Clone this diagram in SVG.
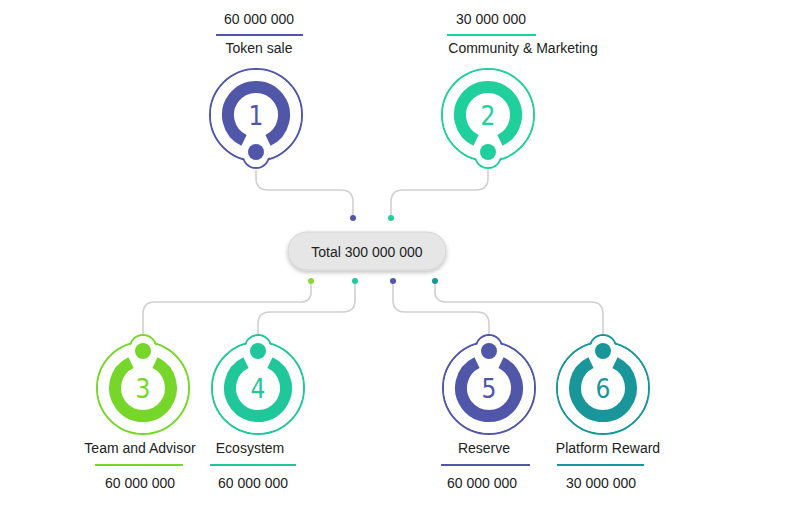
<svg xmlns="http://www.w3.org/2000/svg" width="800" height="521" viewBox="0 0 800 521">
<defs>
<filter id="sh" x="-20%" y="-40%" width="140%" height="180%"><feDropShadow dx="0" dy="2" stdDeviation="2" flood-color="#000" flood-opacity="0.25"/></filter>
<g id="nodeT">
<circle r="46" fill="#fff" stroke="currentColor" stroke-width="2"/>
<circle cy="40" r="13" fill="#fff" stroke="currentColor" stroke-width="2"/>
<circle r="45" fill="#fff"/>
<circle cy="40" r="12" fill="#fff"/>
<path d="M-12,25.3 A28,28 0 1 1 12,25.3" fill="none" stroke="currentColor" stroke-width="12"/>
<circle cy="37" r="8" fill="currentColor"/>
</g>
<g id="nodeB">
<circle r="46" fill="#fff" stroke="currentColor" stroke-width="2"/>
<circle cy="-40" r="13" fill="#fff" stroke="currentColor" stroke-width="2"/>
<circle r="45" fill="#fff"/>
<circle cy="-40" r="12" fill="#fff"/>
<path d="M-12,-25.3 A28,28 0 1 0 12,-25.3" fill="none" stroke="currentColor" stroke-width="12"/>
<circle cy="-37" r="8" fill="currentColor"/>
</g>
</defs>
<style>
text{font-family:"Liberation Sans",Arial,sans-serif;font-size:14px;fill:#222;text-anchor:middle}
.num{font-size:26px;font-family:"DejaVu Sans Condensed","Liberation Sans",sans-serif}
.con{fill:none;stroke:#d0d0d0;stroke-width:1.6}
</style>
<rect width="800" height="521" fill="#fff"/>
<g id="connectors">
<path class="con" d="M256,170 V178 Q256,190 268,190 H341 Q353,190 353,202 V216"/>
<path class="con" d="M488,170 V178 Q488,190 476,190 H403 Q391,190 391,202 V216"/>
<path class="con" d="M311,283 V292 Q311,302 301,302 H155 Q143,302 143,314 V334"/>
<path class="con" d="M355,283 V300 Q355,312 343,312 H270 Q258,312 258,324 V334"/>
<path class="con" d="M393,283 V300 Q393,312 405,312 H477 Q489,312 489,324 V334"/>
<path class="con" d="M435,283 V292 Q435,302 447,302 H591 Q603,302 603,314 V334"/>
<circle cx="353" cy="218" r="3" fill="#5157a8"/>
<circle cx="391" cy="218" r="3" fill="#1fcf9c"/>
<circle cx="311" cy="281" r="3" fill="#8ad83a"/>
<circle cx="355" cy="281" r="3" fill="#1fc79a"/>
<circle cx="393" cy="281" r="3" fill="#5157a8"/>
<circle cx="435" cy="281" r="3" fill="#18969a"/>
</g>
<g id="total">
<rect x="288" y="232" width="158" height="38" rx="19" fill="#e6e6e6" stroke="#d4d4d4" filter="url(#sh)"/>
<text x="367" y="257" font-size="15">Total 300 000 000</text>
</g>
<g id="n1" color="#5157a8">
<use href="#nodeT" x="256" y="115"/>
<text class="num" x="256" y="125" style="fill:#5157a8">1</text>
<text x="259" y="24">60 000 000</text>
<line x1="216" y1="35" x2="303" y2="35" stroke="#5157a8" stroke-width="2"/>
<text x="259" y="53">Token sale</text>
</g>
<g id="n2" color="#1fcf9c">
<use href="#nodeT" x="488" y="115"/>
<text class="num" x="488" y="125" style="fill:#1fcf9c">2</text>
<text x="491" y="24">30 000 000</text>
<line x1="447" y1="35" x2="536" y2="35" stroke="#1fcf9c" stroke-width="2"/>
<text x="523" y="53">Community &amp; Marketing</text>
</g>
<g id="n3" color="#76d62a">
<use href="#nodeB" x="143" y="388"/>
<text class="num" x="143" y="398" style="fill:#76d62a">3</text>
<text x="140" y="453">Team and Advisor</text>
<line x1="95" y1="465" x2="183" y2="465" stroke="#76d62a" stroke-width="2"/>
<text x="140" y="488">60 000 000</text>
</g>
<g id="n4" color="#1fc79a">
<use href="#nodeB" x="258" y="388"/>
<text class="num" x="258" y="398" style="fill:#1fc79a">4</text>
<text x="250" y="453">Ecosystem</text>
<line x1="210" y1="465" x2="296" y2="465" stroke="#1fc79a" stroke-width="2"/>
<text x="253" y="488">60 000 000</text>
</g>
<g id="n5" color="#5157a8">
<use href="#nodeB" x="489" y="388"/>
<text class="num" x="489" y="398" style="fill:#5157a8">5</text>
<text x="484" y="453">Reserve</text>
<line x1="441" y1="465" x2="530" y2="465" stroke="#5157a8" stroke-width="2"/>
<text x="482" y="488">60 000 000</text>
</g>
<g id="n6" color="#18969a">
<use href="#nodeB" x="603" y="388"/>
<text class="num" x="603" y="398" style="fill:#18969a">6</text>
<text x="608" y="453">Platform Reward</text>
<line x1="557" y1="465" x2="644" y2="465" stroke="#18969a" stroke-width="2"/>
<text x="601" y="488">30 000 000</text>
</g>
</svg>
